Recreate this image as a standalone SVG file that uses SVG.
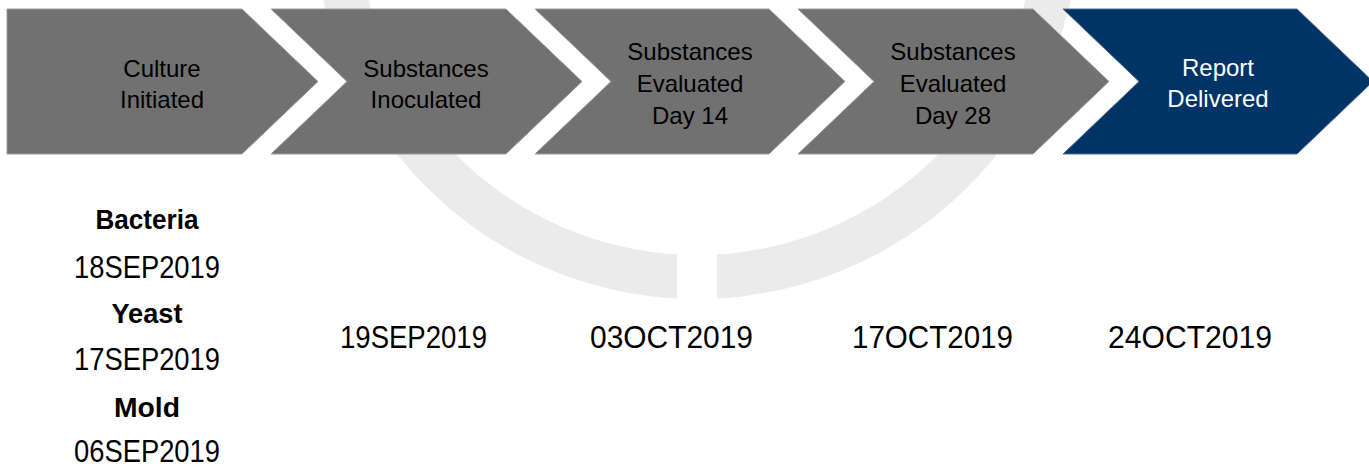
<svg xmlns="http://www.w3.org/2000/svg" width="1369" height="467" viewBox="0 0 1369 467">
<style>
.chev{fill:#717171;stroke:#9c9c9c;stroke-width:1}
.chev.blue{fill:#003466;stroke:#5a6f8c}
.lbl{font-family:"Liberation Sans",Arial,sans-serif;font-size:24px;fill:#000;text-anchor:middle}
.lbl.w{fill:#fff}
.date{font-family:"Liberation Sans",Arial,sans-serif;font-size:31px;fill:#000;text-anchor:middle}
.org{font-family:"Liberation Sans",Arial,sans-serif;font-size:27px;font-weight:bold;fill:#000;text-anchor:middle}
.ring{fill:#ebebeb}
</style>
<rect width="1369" height="467" fill="#fff"/>
<g id="background">
<path class="ring" d="M677 298.5 A383 383 0 1 1 717 298.5 L717 254.4 A339 339 0 1 0 677 254.4 Z"/>
</g>
<g id="connectors"></g>
<g id="step1">
<path class="chev" d="M7 9 L242 9 L318 81.5 L242 154 L7 154 Z"/>
<text class="lbl" x="162" y="77">Culture</text>
<text class="lbl" x="162" y="108">Initiated</text>
</g>
<g id="step2">
<path class="chev" d="M271 9 L506 9 L582 81.5 L506 154 L271 154 L347 81.5 Z"/>
<text class="lbl" x="426" y="77">Substances</text>
<text class="lbl" x="426" y="108">Inoculated</text>
</g>
<g id="step3">
<path class="chev" d="M535 9 L769 9 L845 81.5 L769 154 L535 154 L611 81.5 Z"/>
<text class="lbl" x="690" y="60">Substances</text>
<text class="lbl" x="690" y="92">Evaluated</text>
<text class="lbl" x="690" y="124">Day 14</text>
</g>
<g id="step4">
<path class="chev" d="M798 9 L1033 9 L1109 81.5 L1033 154 L798 154 L874 81.5 Z"/>
<text class="lbl" x="953" y="60">Substances</text>
<text class="lbl" x="953" y="92">Evaluated</text>
<text class="lbl" x="953" y="124">Day 28</text>
</g>
<g id="step5">
<path class="chev blue" d="M1063 9 L1297 9 L1373 81.5 L1297 154 L1063 154 L1139 81.5 Z"/>
<text class="lbl w" x="1218" y="76">Report</text>
<text class="lbl w" x="1218" y="107">Delivered</text>
</g>
<g id="dates1">
<text class="org" x="147" y="229" textLength="103" lengthAdjust="spacingAndGlyphs">Bacteria</text>
<text class="date" x="147" y="278" textLength="146" lengthAdjust="spacingAndGlyphs">18SEP2019</text>
<text class="org" x="147" y="323" textLength="71" lengthAdjust="spacingAndGlyphs">Yeast</text>
<text class="date" x="147" y="370" textLength="146" lengthAdjust="spacingAndGlyphs">17SEP2019</text>
<text class="org" x="147" y="417" textLength="66" lengthAdjust="spacingAndGlyphs">Mold</text>
<text class="date" x="147" y="462" textLength="146" lengthAdjust="spacingAndGlyphs">06SEP2019</text>
</g>
<g id="dates2"><text class="date" x="413.5" y="348" textLength="147" lengthAdjust="spacingAndGlyphs">19SEP2019</text></g>
<g id="dates3"><text class="date" x="671.5" y="348" textLength="163" lengthAdjust="spacingAndGlyphs">03OCT2019</text></g>
<g id="dates4"><text class="date" x="932.5" y="348" textLength="161" lengthAdjust="spacingAndGlyphs">17OCT2019</text></g>
<g id="dates5"><text class="date" x="1190" y="348" textLength="164" lengthAdjust="spacingAndGlyphs">24OCT2019</text></g>
</svg>
